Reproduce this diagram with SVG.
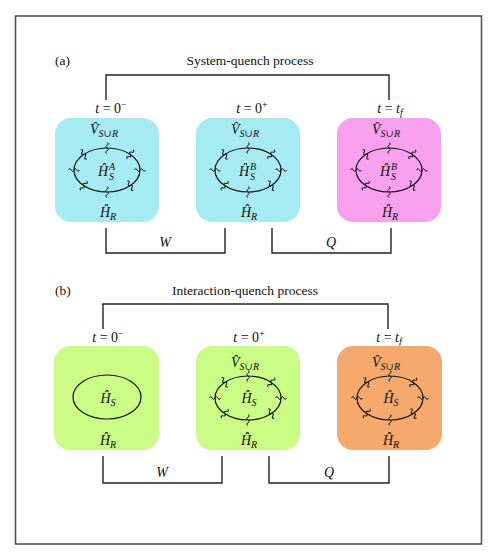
<svg xmlns="http://www.w3.org/2000/svg" xmlns:xlink="http://www.w3.org/1999/xlink" width="498" height="559" viewBox="0 0 498 559">
<style>
text{font-family:"Liberation Serif","DejaVu Serif",serif;fill:#111}
.t{font-size:13.5px}
.m{font-size:14px;font-style:italic}
.s{font-size:10px;font-style:italic}
.u{font-style:normal}
.ln{fill:none;stroke:#222;stroke-width:1.4}
.cy{fill:#a6ebf2}
.pk{fill:#f9a0ee}
.gr{fill:#cbfc86}
.or{fill:#f5a96c}
.el{fill:none;stroke:#111;stroke-width:1.2}
.wg{fill:none;stroke:#111;stroke-width:1}
</style>
<defs>
<path id="wig" class="wg" d="M0,-5.5 q3,1.4 0,2.75 q-3,1.4 0,2.75 q3,1.4 0,2.75 q-3,1.4 0,2.75"/>
<g id="ring">
<ellipse class="el" cx="0" cy="0" rx="33" ry="22"/>
<use xlink:href="#wig" href="#wig" transform="translate(0,-22)"/>
<use xlink:href="#wig" href="#wig" transform="translate(0,22)"/>
<use xlink:href="#wig" href="#wig" transform="translate(-33,0) rotate(90)"/>
<use xlink:href="#wig" href="#wig" transform="translate(33,0) rotate(90)"/>
<use xlink:href="#wig" href="#wig" transform="translate(23.3,-15.6) rotate(34)"/>
<use xlink:href="#wig" href="#wig" transform="translate(-23.3,-15.6) rotate(-34)"/>
<use xlink:href="#wig" href="#wig" transform="translate(23.3,15.6) rotate(-34)"/>
<use xlink:href="#wig" href="#wig" transform="translate(-23.3,15.6) rotate(34)"/>
</g>
</defs>
<rect x="0" y="0" width="498" height="559" fill="#fff"/>
<rect id="frame" x="15.5" y="16" width="466" height="528" fill="none" stroke="#555" stroke-width="1.6"/>

<g id="panel-a-labels">
<text class="t" x="55" y="65">(a)</text>
<text class="t" x="250" y="65" text-anchor="middle">System-quench process</text>
<text class="m" x="111" y="113" text-anchor="middle">t<tspan class="u"> = 0</tspan><tspan class="u" font-size="10" dy="-5">−</tspan></text>
<text class="m" x="252" y="113" text-anchor="middle">t<tspan class="u"> = 0</tspan><tspan class="u" font-size="10" dy="-5">+</tspan></text>
<text class="m" x="390" y="113" text-anchor="middle">t<tspan class="u"> = </tspan>t<tspan font-size="10" dy="3">f</tspan></text>
</g>

<g id="box-a1">
<rect class="cy" x="55" y="118" width="104" height="104" rx="16"/>
<text class="m" x="104" y="134" text-anchor="middle">V̂<tspan font-size="10" dy="3">S∪R</tspan></text>
<use xlink:href="#ring" href="#ring" transform="translate(107,170)"/>
<text class="m" x="108" y="176" text-anchor="end">Ĥ</text>
<text class="s" x="109" y="170">A</text>
<text class="s" x="109" y="180">S</text>
<text class="m" x="108" y="217" text-anchor="middle">Ĥ<tspan font-size="10" dy="3">R</tspan></text>
</g>

<g id="box-a2">
<rect class="cy" x="196" y="118" width="104" height="104" rx="16"/>
<text class="m" x="245" y="134" text-anchor="middle">V̂<tspan font-size="10" dy="3">S∪R</tspan></text>
<use xlink:href="#ring" href="#ring" transform="translate(248,170)"/>
<text class="m" x="249" y="176" text-anchor="end">Ĥ</text>
<text class="s" x="250" y="170">B</text>
<text class="s" x="250" y="180">S</text>
<text class="m" x="249" y="217" text-anchor="middle">Ĥ<tspan font-size="10" dy="3">R</tspan></text>
</g>

<g id="box-a3">
<rect class="pk" x="337" y="118" width="104" height="104" rx="16"/>
<text class="m" x="386" y="134" text-anchor="middle">V̂<tspan font-size="10" dy="3">S∪R</tspan></text>
<use xlink:href="#ring" href="#ring" transform="translate(389,170)"/>
<text class="m" x="390" y="176" text-anchor="end">Ĥ</text>
<text class="s" x="391" y="170">B</text>
<text class="s" x="391" y="180">S</text>
<text class="m" x="390" y="217" text-anchor="middle">Ĥ<tspan font-size="10" dy="3">R</tspan></text>
</g>

<g id="panel-b-labels">
<text class="t" x="55" y="295">(b)</text>
<text class="t" x="245" y="295" text-anchor="middle">Interaction-quench process</text>
<text class="m" x="108" y="342" text-anchor="middle">t<tspan class="u"> = 0</tspan><tspan class="u" font-size="10" dy="-5">−</tspan></text>
<text class="m" x="249" y="342" text-anchor="middle">t<tspan class="u"> = 0</tspan><tspan class="u" font-size="10" dy="-5">+</tspan></text>
<text class="m" x="389" y="342" text-anchor="middle">t<tspan class="u"> = </tspan>t<tspan font-size="10" dy="3">f</tspan></text>
</g>

<g id="box-b1">
<rect class="gr" x="54" y="346" width="105" height="104" rx="16"/>
<ellipse class="el" cx="107" cy="397" rx="34" ry="22"/>
<text class="m" x="108" y="403" text-anchor="middle">Ĥ<tspan font-size="10" dy="3">S</tspan></text>
<text class="m" x="108" y="445" text-anchor="middle">Ĥ<tspan font-size="10" dy="3">R</tspan></text>
</g>

<g id="box-b2">
<rect class="gr" x="196" y="346" width="104" height="104" rx="16"/>
<text class="m" x="245" y="367" text-anchor="middle">V̂<tspan font-size="10" dy="3">S∪R</tspan></text>
<use xlink:href="#ring" href="#ring" transform="translate(248,398)"/>
<text class="m" x="249" y="403" text-anchor="middle">Ĥ<tspan font-size="10" dy="3">S</tspan></text>
<text class="m" x="249" y="445" text-anchor="middle">Ĥ<tspan font-size="10" dy="3">R</tspan></text>
</g>

<g id="box-b3">
<rect class="or" x="337" y="346" width="105" height="104" rx="16"/>
<text class="m" x="386" y="367" text-anchor="middle">V̂<tspan font-size="10" dy="3">S∪R</tspan></text>
<use xlink:href="#ring" href="#ring" transform="translate(390,398)"/>
<text class="m" x="391" y="403" text-anchor="middle">Ĥ<tspan font-size="10" dy="3">S</tspan></text>
<text class="m" x="391" y="445" text-anchor="middle">Ĥ<tspan font-size="10" dy="3">R</tspan></text>
</g>

<g id="connectors">
<path class="ln" d="M106,100 V75 H389 V100"/>
<path class="ln" d="M106,228 V253 H225 V228"/>
<path class="ln" d="M272,228 V253 H391 V228"/>
<path class="ln" d="M103,329 V304 H388 V329"/>
<path class="ln" d="M103,456 V483 H222 V456"/>
<path class="ln" d="M269,456 V483 H389 V456"/>
<text class="m" x="165" y="247" text-anchor="middle">W</text>
<text class="m" x="331" y="247" text-anchor="middle">Q</text>
<text class="m" x="162" y="477" text-anchor="middle">W</text>
<text class="m" x="329" y="477" text-anchor="middle">Q</text>
</g>
</svg>
